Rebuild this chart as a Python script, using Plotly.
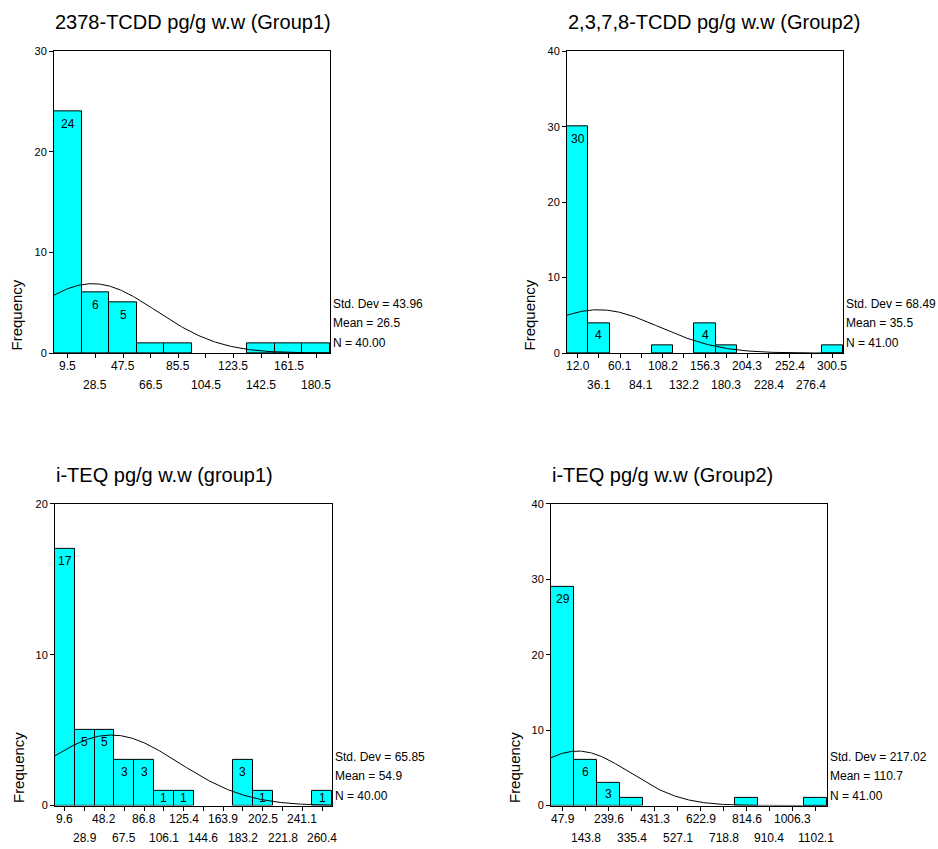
import numpy as np
import plotly.graph_objects as go

FONT = "Arial, 'Liberation Sans', Helvetica, sans-serif"

# ---------------- data ----------------
titles = [
    "2378-TCDD pg/g w.w (Group1)",
    "2,3,7,8-TCDD pg/g w.w (Group2)",
    "i-TEQ pg/g w.w (group1)",
    "i-TEQ pg/g w.w (Group2)",
]

tick_labels_1 = ["9.5", "28.5", "47.5", "66.5", "85.5", "104.5", "123.5", "142.5", "161.5", "180.5"]
counts_1 = [24, 6, 5, 1, 1, 0, 0, 1, 1, 1]
bar_text_1 = ["24", "6", "5", "", "", "", "", "", "", ""]

tick_labels_2 = ["12.0", "36.1", "60.1", "84.1", "108.2", "132.2", "156.3", "180.3",
                 "204.3", "228.4", "252.4", "276.4", "300.5"]
counts_2 = [30, 4, 0, 0, 1, 0, 4, 1, 0, 0, 0, 0, 1]
bar_text_2 = ["30", "4", "", "", "", "", "4", "", "", "", "", "", ""]

tick_labels_3 = ["9.6", "28.9", "48.2", "67.5", "86.8", "106.1", "125.4", "144.6",
                 "163.9", "183.2", "202.5", "221.8", "241.1", "260.4"]
counts_3 = [17, 5, 5, 3, 3, 1, 1, 0, 0, 3, 1, 0, 0, 1]
bar_text_3 = ["17", "5", "5", "3", "3", "1", "1", "", "", "3", "1", "", "", "1"]

tick_labels_4 = ["47.9", "143.8", "239.6", "335.4", "431.3", "527.1", "622.9", "718.8",
                 "814.6", "910.4", "1006.3", "1102.1"]
counts_4 = [29, 6, 3, 1, 0, 0, 0, 0, 1, 0, 0, 1]
bar_text_4 = ["29", "6", "3", "", "", "", "", "", "", "", "", ""]

y_max = [30, 40, 20, 40]
y_ticks = [[0, 10, 20, 30], [0, 10, 20, 30, 40], [0, 10, 20], [0, 10, 20, 30, 40]]

std_devs = [43.96, 68.49, 65.85, 217.02]
means = [26.5, 35.5, 54.9, 110.7]
n_cases = [40, 41, 40, 41]

tick_labels = [tick_labels_1, tick_labels_2, tick_labels_3, tick_labels_4]
counts = [counts_1, counts_2, counts_3, counts_4]
bar_texts = [bar_text_1, bar_text_2, bar_text_3, bar_text_4]

# ---------------- layout geometry (pixels) ----------------
W, H = 938, 849
# left, right, top, bottom
panels_px = [(54, 330, 46, 352), (567, 843, 46, 352), (55, 332, 505, 811), (551, 827, 505, 811)]

fig = go.Figure()
annotations = []
layout_axes = {}

for i in range(4):
    k = i + 1
    xa = "x" if k == 1 else f"x{k}"
    ya = "y" if k == 1 else f"y{k}"
    xname = "xaxis" if k == 1 else f"xaxis{k}"
    yname = "yaxis" if k == 1 else f"yaxis{k}"
    L, R, T, B = panels_px[i]

    centers = np.array([float(s) for s in tick_labels[i]])
    nb = len(centers)
    width = (centers[-1] - centers[0]) / (nb - 1)
    x0, x1 = centers[0] - width / 2, centers[-1] + width / 2
    cnt = np.array(counts[i], dtype=float)
    yvals = [c if c > 0 else None for c in cnt]

    fig.add_trace(go.Bar(
        x=centers, y=yvals, width=width,
        marker=dict(color="#00FFFF", line=dict(color="black", width=1)),
        xaxis=xa, yaxis=ya, showlegend=False, hoverinfo="skip",
    ))

    # normal curve overlay from the stated mean / std / N
    xs = np.linspace(x0, x1, 300)
    scale = n_cases[i] * width / (std_devs[i] * np.sqrt(2 * np.pi))
    ys = scale * np.exp(-0.5 * ((xs - means[i]) / std_devs[i]) ** 2)
    fig.add_trace(go.Scatter(
        x=xs, y=ys, mode="lines", line=dict(color="black", width=1),
        xaxis=xa, yaxis=ya, showlegend=False, hoverinfo="skip",
    ))

    # bar count labels
    px_per_unit = (B - T) / y_max[i]
    for c, cval, txt in zip(centers, cnt, bar_texts[i]):
        if not txt:
            continue
        if cval * px_per_unit < 26:
            annotations.append(dict(x=c, y=cval / 2, xref=xa, yref=ya, text=txt,
                                    showarrow=False, yanchor="middle",
                                    font=dict(family=FONT, size=12, color="black")))
        else:
            annotations.append(dict(x=c, y=cval, xref=xa, yref=ya, text=txt,
                                    showarrow=False, yanchor="top", yshift=-3,
                                    font=dict(family=FONT, size=12, color="black")))

    # x tick labels in two staggered rows
    for j, lab in enumerate(tick_labels[i]):
        annotations.append(dict(x=centers[j], y=0, xref=xa, yref=f"{ya} domain",
                                text=lab, showarrow=False, yanchor="middle",
                                yshift=-13 if j % 2 == 0 else -32,
                                font=dict(family=FONT, size=12, color="black")))

    layout_axes[xname] = dict(
        domain=[L / W, R / W], anchor=ya, range=[x0, x1],
        tickmode="array", tickvals=centers, ticktext=[""] * nb,
        ticks="outside", ticklen=4, tickwidth=1, tickcolor="black",
        showline=True, linecolor="black", linewidth=1, mirror=True,
        showgrid=False, zeroline=False, fixedrange=True,
    )
    layout_axes[yname] = dict(
        domain=[(H - B) / H, (H - T) / H], anchor=xa, range=[0, y_max[i]],
        tickmode="array", tickvals=y_ticks[i],
        ticks="outside", ticklen=4, tickwidth=1, tickcolor="black",
        showline=True, linecolor="black", linewidth=1, mirror=True,
        showgrid=False, zeroline=False, fixedrange=True,
        tickfont=dict(family=FONT, size=11, color="black"),
    )

    # title
    annotations.append(dict(x=0, y=1, xref=f"{xa} domain", yref=f"{ya} domain",
                            text=titles[i], showarrow=False, xanchor="left",
                            yanchor="middle", yshift=29, xshift=-1,
                            font=dict(family=FONT, size=20, color="black")))
    # y axis title
    annotations.append(dict(x=0, y=0, xref=f"{xa} domain", yref=f"{ya} domain",
                            text="Frequency", showarrow=False, textangle=-90,
                            xanchor="center", yanchor="bottom", xshift=-37,
                            font=dict(family=FONT, size=15, color="black")))
    # statistics
    stats = [f"Std. Dev = {std_devs[i]:.2f}", f"Mean = {means[i]:.1f}", f"N = {n_cases[i]:.2f}"]
    for s, sh in zip(stats, [49, 30, 10]):
        annotations.append(dict(x=1, y=0, xref=f"{xa} domain", yref=f"{ya} domain",
                                text=s, showarrow=False, xanchor="left",
                                yanchor="middle", xshift=1, yshift=sh,
                                font=dict(family=FONT, size=12, color="black")))

fig.update_layout(
    width=W, height=H,
    margin=dict(l=0, r=0, t=0, b=0),
    paper_bgcolor="white", plot_bgcolor="white",
    bargap=0, showlegend=False,
    annotations=annotations,
    **layout_axes,
)

fig.write_html(
    "out.html",
    config={"displayModeBar": False},
    post_script="document.body.style.margin='0px';document.body.style.overflow='hidden';",
)
